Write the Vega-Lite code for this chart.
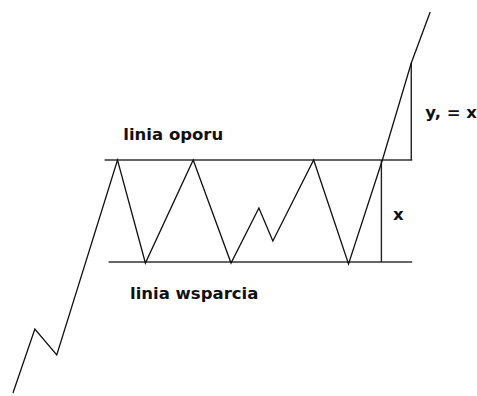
{
  "$schema": "https://vega.github.io/schema/vega-lite/v6.json",
  "autosize": {"type": "fit", "contains": "padding"},
  "width": 477,
  "height": 396,
  "padding": 0,
  "background": "white",
  "config": {"view": {"stroke": null}},
  "datasets": {
    "price": [
      {"t": 13, "p": 3, "i": 0},
      {"t": 35, "p": 67, "i": 1},
      {"t": 57, "p": 41, "i": 2},
      {"t": 118, "p": 236, "i": 3},
      {"t": 146, "p": 133, "i": 4},
      {"t": 194, "p": 236, "i": 5},
      {"t": 232, "p": 133, "i": 6},
      {"t": 260, "p": 188, "i": 7},
      {"t": 274, "p": 155, "i": 8},
      {"t": 315, "p": 236, "i": 9},
      {"t": 350, "p": 132, "i": 10},
      {"t": 384, "p": 236, "i": 11},
      {"t": 413, "p": 333, "i": 12},
      {"t": 432, "p": 384, "i": 13}
    ],
    "hlines": [
      {"t1": 105, "t2": 414, "p": 236},
      {"t1": 109, "t2": 414, "p": 134}
    ],
    "vlines": [
      {"t": 383, "p1": 134, "p2": 236},
      {"t": 413, "p1": 236, "p2": 333}
    ],
    "labels": [
      {"t": 174, "p": 261, "label": "linia oporu"},
      {"t": 195, "p": 102, "label": "linia wsparcia"},
      {"t": 400, "p": 181, "label": "x"},
      {"t": 453, "p": 283, "label": "y, = x"}
    ]
  },
  "layer": [
    {
      "data": {"name": "hlines"},
      "mark": {"type": "rule", "color": "#333", "strokeWidth": 1.6},
      "encoding": {
        "x": {"field": "t1", "type": "quantitative", "scale": {"domain": [0, 477], "nice": false, "zero": false}, "axis": null},
        "x2": {"field": "t2"},
        "y": {"field": "p", "type": "quantitative", "scale": {"domain": [0, 396], "nice": false, "zero": false}, "axis": null}
      }
    },
    {
      "data": {"name": "vlines"},
      "mark": {"type": "rule", "color": "#222", "strokeWidth": 1.4},
      "encoding": {
        "x": {"field": "t", "type": "quantitative"},
        "y": {"field": "p1", "type": "quantitative"},
        "y2": {"field": "p2"}
      }
    },
    {
      "data": {"name": "price"},
      "mark": {"type": "line", "color": "#111", "strokeWidth": 1.3},
      "encoding": {
        "x": {"field": "t", "type": "quantitative"},
        "y": {"field": "p", "type": "quantitative"},
        "order": {"field": "i"}
      }
    },
    {
      "data": {"name": "labels"},
      "mark": {"type": "text", "font": "DejaVu Sans", "fontWeight": "bold", "fontSize": 16.5, "color": "#111", "align": "center", "baseline": "middle"},
      "encoding": {
        "x": {"field": "t", "type": "quantitative"},
        "y": {"field": "p", "type": "quantitative"},
        "text": {"field": "label"}
      }
    }
  ]
}
